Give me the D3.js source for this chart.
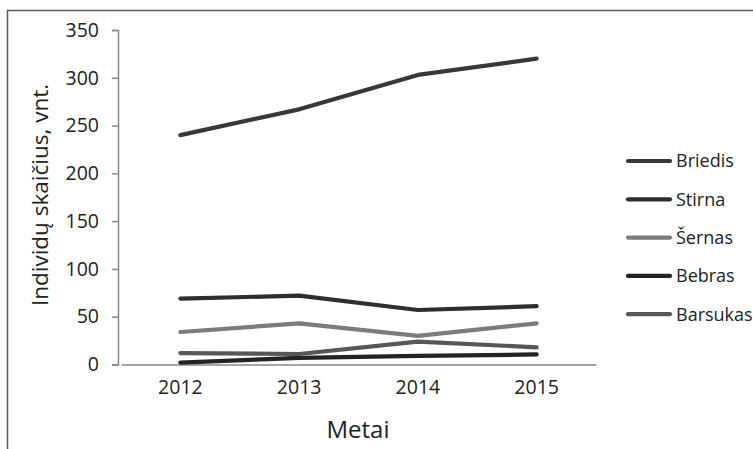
<!DOCTYPE html>
<html><head><meta charset="utf-8">
<script src="https://cdn.jsdelivr.net/npm/d3@7"></script>
<style>body{margin:0;background:#fff}svg{display:block}</style>
</head><body>
<script>
const years = ["2012","2013","2014","2015"];
const seriesNames = ["Briedis","Stirna","Šernas","Bebras","Barsukas"];
const briedis = [240, 267, 303, 320];
const stirna = [69, 72, 57, 61];
const sernas = [34, 43, 30, 43];
const bebras = [2, 7, 9, 10.5];
const barsukas = [12, 11, 24, 18];
const yTicks = [0, 50, 100, 150, 200, 250, 300, 350];
const colors = ["#383838","#2e2e2e","#7c7c7c","#232323","#575757"];
const seriesValues = [briedis, stirna, sernas, bebras, barsukas];

const W = 753, H = 449;
const svg = d3.select("body").append("svg").attr("width", W).attr("height", H);
const font = "'Open Sans', sans-serif";
const txt = "#222";

// frame
svg.append("path").attr("d", `M7.5,${H} V10.5 H${W}`).attr("fill","none").attr("stroke","#5a5a5a").attr("stroke-width",1.5);

const x = d3.scaleBand().domain(years).range([121, 596]).padding(0);
const y = d3.scaleLinear().domain([0, 350]).range([364.5, 30]);

const yAxis = svg.append("g").attr("transform","translate(118,0)")
  .call(d3.axisLeft(y).tickValues(yTicks).tickSize(6).tickPadding(13).tickFormat(d3.format("d")));
yAxis.select(".domain").attr("stroke","#888").attr("stroke-width",1.5);
yAxis.selectAll(".tick line").attr("stroke","#888").attr("stroke-width",1.5);
yAxis.selectAll("text").attr("font-family",font).attr("font-size",19.5).attr("fill",txt);

const xAxis = svg.append("g").attr("transform",`translate(0,${y(0)})`)
  .call(d3.axisBottom(x).tickSize(0).tickPadding(16).tickSizeOuter(0));
xAxis.select(".domain").attr("stroke","#888").attr("stroke-width",1.5);
xAxis.selectAll("text").attr("font-family",font).attr("font-size",19.5).attr("fill",txt);

const line = d3.line().x((d,i)=>x(years[i]) + x.bandwidth()/2).y(d=>y(d));
seriesValues.forEach((vals, k) => {
  svg.append("path").datum(vals).attr("d", line).attr("fill","none")
    .attr("stroke", colors[k]).attr("stroke-width", 4.2).attr("stroke-linejoin","round").attr("stroke-linecap","round");
});

// axis titles
svg.append("text").attr("x", 358).attr("y", 438).attr("text-anchor","middle")
  .attr("font-family",font).attr("font-size",24).attr("fill",txt).text("Metai");
svg.append("text").attr("transform","translate(48,195) rotate(-90)").attr("text-anchor","middle")
  .attr("font-family",font).attr("font-size",22.5).attr("fill",txt).text("Individų skaičius, vnt.");

// legend
const lg = svg.append("g");
seriesNames.forEach((n, k) => {
  const ly = 161 + k * 38.3;
  lg.append("line").attr("x1",628).attr("x2",670).attr("y1",ly).attr("y2",ly)
    .attr("stroke",colors[k]).attr("stroke-width",4.2).attr("stroke-linecap","round");
  lg.append("text").attr("x",676).attr("y",ly).attr("dy","0.36em")
    .attr("font-family",font).attr("font-size",18).attr("fill",txt).text(n);
});
</script>
</body></html>
